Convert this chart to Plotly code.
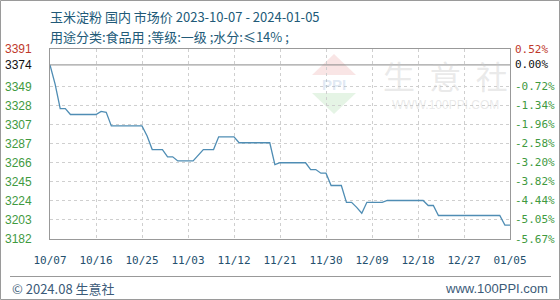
import plotly.graph_objects as go

# ---- data ----
dates = ["2023-10-07", "2023-10-08", "2023-10-09", "2023-10-10", "2023-10-11", "2023-10-16",
         "2023-10-17", "2023-10-18", "2023-10-19", "2023-10-25", "2023-10-26", "2023-10-27",
         "2023-10-29", "2023-10-30", "2023-10-31", "2023-11-01", "2023-11-04", "2023-11-06",
         "2023-11-08", "2023-11-09", "2023-11-12", "2023-11-13", "2023-11-19", "2023-11-20",
         "2023-11-21", "2023-11-26", "2023-11-27", "2023-11-28", "2023-11-29", "2023-11-30",
         "2023-12-01", "2023-12-03", "2023-12-04", "2023-12-05", "2023-12-06", "2023-12-07",
         "2023-12-08", "2023-12-11", "2023-12-12", "2023-12-19", "2023-12-20", "2023-12-21",
         "2023-12-22", "2024-01-03", "2024-01-04", "2024-01-05"]
prices = [3374, 3353, 3326, 3326, 3319.5, 3319.5,
          3323, 3322, 3307, 3307, 3296, 3281,
          3281, 3273, 3273, 3268.5, 3268.5, 3281,
          3281, 3295, 3295, 3288.5, 3288.5, 3264.5,
          3266.5, 3266.5, 3259, 3259, 3255, 3255,
          3241.5, 3241.5, 3223, 3223, 3217.5, 3211,
          3223, 3223, 3225, 3225, 3219.5, 3219.5,
          3208.5, 3208.5, 3198, 3198]

x_ticks = ["2023-10-07", "2023-10-16", "2023-10-25", "2023-11-03", "2023-11-12", "2023-11-21",
           "2023-11-30", "2023-12-09", "2023-12-18", "2023-12-27", "2024-01-05"]
x_ticklabels = ["10/07", "10/16", "10/25", "11/03", "11/12", "11/21",
                "11/30", "12/09", "12/18", "12/27", "01/05"]

base_price = 3374
grid_vals = [3182.7, 3203.6, 3224.5, 3245.4, 3266.3, 3287.2, 3308.1, 3329.0, 3349.9]
left_labels = ["3182", "3203", "3224", "3245", "3266", "3287", "3307", "3328", "3349"]
right_labels = ["-5.67%", "-5.05%", "-4.44%", "-3.82%", "-3.20%", "-2.58%", "-1.96%", "-1.34%", "-0.72%"]
top_val = 3391.5
top_left = "3391"
top_right = "0.52%"

title = "玉米淀粉 国内 市场价 2023-10-07 - 2024-01-05"
subtitle = "用途分类:食品用 ;等级:一级 ;水分:≤14% ;"

W, H = 560, 300
L, R, T, B = 50, 510, 49, 239
pw, ph = R - L, B - T


def px_x(p):
    return (p - L) / pw


def px_y(p):
    return (B - p) / ph


fig = go.Figure()
fig.add_trace(go.Scatter(x=dates, y=prices, mode="lines",
                         line=dict(color="#4f8db4", width=1.3), hoverinfo="skip"))

green = "#3f9a3f"
red = "#c0392b"
annotations = []
lab_font_l = dict(family="Liberation Sans, Arial", size=12)
lab_font_r = dict(family="DejaVu Sans Mono", size=11)
for v, ll, rl in zip(grid_vals, left_labels, right_labels):
    annotations.append(dict(x=px_x(3), y=v, xref="paper", yref="y", text=ll, showarrow=False,
                            xanchor="left", yanchor="middle", font=dict(color=green, **lab_font_l)))
    annotations.append(dict(x=px_x(513), y=v, xref="paper", yref="y", text=rl, showarrow=False,
                            xanchor="left", yanchor="middle", font=dict(color=green, **lab_font_r)))
annotations.append(dict(x=px_x(3), y=top_val, xref="paper", yref="y", text=top_left, showarrow=False,
                        xanchor="left", yanchor="middle", font=dict(color=red, **lab_font_l)))
annotations.append(dict(x=px_x(513), y=top_val, xref="paper", yref="y", text=top_right, showarrow=False,
                        xanchor="left", yanchor="middle", font=dict(color=red, **lab_font_r)))
annotations.append(dict(x=px_x(3), y=base_price, xref="paper", yref="y", text=str(base_price), showarrow=False,
                        xanchor="left", yanchor="middle", font=dict(color="#111111", **lab_font_l)))
annotations.append(dict(x=px_x(513), y=base_price, xref="paper", yref="y", text="0.00%", showarrow=False,
                        xanchor="left", yanchor="middle", font=dict(color="#111111", **lab_font_r)))

title_color = "#215a78"
annotations.append(dict(x=px_x(48), y=px_y(17), xref="paper", yref="paper", text=title, showarrow=False,
                        xanchor="left", yanchor="middle",
                        font=dict(family="Noto Sans CJK SC", size=13, color=title_color)))
annotations.append(dict(x=px_x(48), y=px_y(36), xref="paper", yref="paper", text=subtitle, showarrow=False,
                        xanchor="left", yanchor="middle",
                        font=dict(family="Noto Sans CJK SC", size=13, color=title_color)))

# watermark
wm = "rgba(200,200,200,0.4)"
annotations.append(dict(x=px_x(445), y=px_y(75), xref="paper", yref="paper", text="生  意  社", showarrow=False,
                        xanchor="center", yanchor="middle",
                        font=dict(family="Noto Sans CJK SC", size=32, color=wm)))
annotations.append(dict(x=px_x(445), y=px_y(105), xref="paper", yref="paper", text="WWW.100PPI.COM", showarrow=False,
                        xanchor="center", yanchor="middle",
                        font=dict(family="Liberation Sans", size=12, color=wm)))
annotations.append(dict(x=px_x(334), y=px_y(84), xref="paper", yref="paper", text="<b>PPI</b>", showarrow=False,
                        xanchor="center", yanchor="middle",
                        font=dict(family="Liberation Sans", size=15, color="rgba(150,180,215,0.3)")))

# footer
foot_color = "#3b5a78"
annotations.append(dict(x=px_x(10), y=px_y(288), xref="paper", yref="paper", text="© 2024.08 生意社", showarrow=False,
                        xanchor="left", yanchor="middle",
                        font=dict(family="Noto Sans CJK SC", size=13, color=foot_color)))
annotations.append(dict(x=px_x(550), y=px_y(288), xref="paper", yref="paper", text="www.100PPI.com", showarrow=False,
                        xanchor="right", yanchor="middle",
                        font=dict(family="Liberation Sans", size=13, color=foot_color)))

shapes = []
# watermark logo triangles
shapes.append(dict(type="path", xref="paper", yref="paper", layer="below",
                   path=f"M {px_x(312)} {px_y(75)} L {px_x(334)} {px_y(54)} L {px_x(356)} {px_y(75)} Z",
                   fillcolor="rgba(235,170,170,0.3)", line=dict(width=0)))
shapes.append(dict(type="path", xref="paper", yref="paper", layer="below",
                   path=f"M {px_x(312)} {px_y(93)} L {px_x(334)} {px_y(114)} L {px_x(356)} {px_y(93)} Z",
                   fillcolor="rgba(170,220,170,0.3)", line=dict(width=0)))
# base line
shapes.append(dict(type="line", xref="paper", yref="y", x0=0, x1=1, y0=base_price, y1=base_price,
                   line=dict(color="#8a8a8a", width=1)))
# footer separator
shapes.append(dict(type="line", xref="paper", yref="paper", x0=px_x(10), x1=px_x(551),
                   y0=px_y(276.5), y1=px_y(276.5), line=dict(color="#999999", width=1)))
# outer border
shapes.append(dict(type="rect", xref="paper", yref="paper", x0=px_x(0.5), x1=px_x(559.5),
                   y0=px_y(0.5), y1=px_y(299.5), line=dict(color="#9a9a9a", width=1)))

fig.update_layout(
    width=W, height=H,
    margin=dict(l=L, r=W - R, t=T, b=H - B),
    paper_bgcolor="white", plot_bgcolor="white",
    showlegend=False,
    annotations=annotations, shapes=shapes,
    xaxis=dict(type="date", range=["2023-10-07", "2024-01-05"], tickvals=x_ticks, ticktext=x_ticklabels,
               showgrid=True, gridcolor="#cfcfcf", griddash="dot", gridwidth=1,
               showline=True, linecolor="#999999", mirror=True, linewidth=1,
               ticks="", ticklabelstandoff=11,
               tickfont=dict(family="DejaVu Sans Mono", size=11, color="#24506e"),
               zeroline=False),
    yaxis=dict(range=[grid_vals[0], top_val], tickvals=grid_vals, showticklabels=False,
               showgrid=True, gridcolor="#cfcfcf", griddash="dot", gridwidth=1,
               showline=True, linecolor="#999999", mirror=True, linewidth=1,
               ticks="", zeroline=False),
)

fig.write_html("out.html")
